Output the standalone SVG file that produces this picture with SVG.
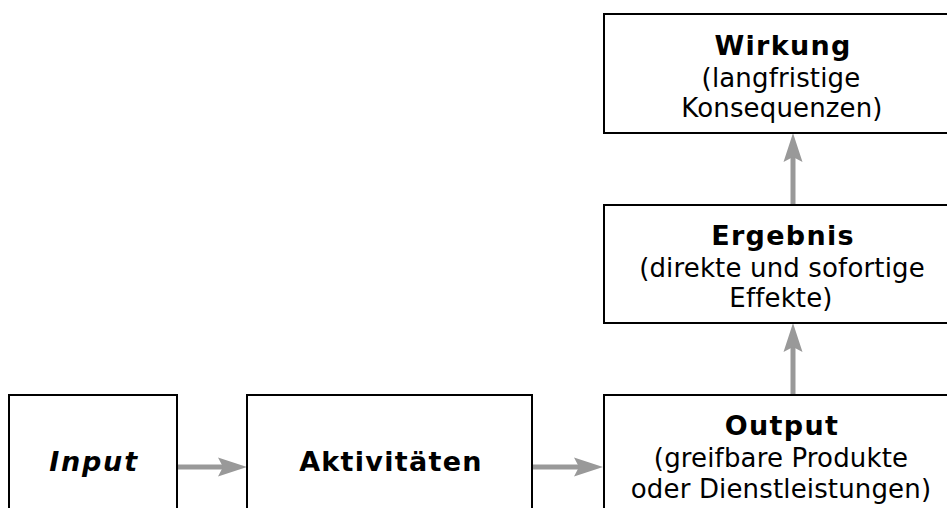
<svg xmlns="http://www.w3.org/2000/svg" width="947" height="508" viewBox="0 0 947 508">
<style>
.box{fill:#fff;stroke:#000;stroke-width:2}
text{font-family:"DejaVu Sans",Verdana,sans-serif;font-size:26px;fill:#000;text-anchor:middle;letter-spacing:0.15px}
.t{font-weight:bold;font-size:27px;letter-spacing:1.3px}
.conn{stroke:#999;stroke-width:5;fill:none}
</style>
<defs>
<marker id="ah" markerUnits="userSpaceOnUse" viewBox="-10 -10 32 20" refX="0" refY="0" markerWidth="32" markerHeight="20" orient="auto">
<path d="M21,0 L-8,-9.5 L-3,0 L-8,9.5 Z" fill="#999"/>
</marker>
</defs>
<rect width="947" height="508" fill="#fff"/>
<g id="connectors">
<line class="conn" x1="177" y1="467" x2="226" y2="467" marker-end="url(#ah)"/>
<line class="conn" x1="532" y1="467" x2="582" y2="467" marker-end="url(#ah)"/>
<line class="conn" x1="793" y1="395" x2="793" y2="344" marker-end="url(#ah)"/>
<line class="conn" x1="793" y1="205" x2="793" y2="154" marker-end="url(#ah)"/>
</g>
<g id="input">
<rect class="box" x="9" y="395" width="168" height="150"/>
<text class="t" x="94" y="471" font-style="italic" style="letter-spacing:1.8px">Input</text>
</g>
<g id="aktivitaeten">
<rect class="box" x="247" y="395" width="285" height="150"/>
<text class="t" x="391" y="471">Aktivitäten</text>
</g>
<g id="output">
<rect class="box" x="604" y="395" width="360" height="150"/>
<text class="t" x="782" y="435">Output</text>
<text x="781" y="467">(greifbare Produkte</text>
<text x="781" y="498">oder Dienstleistungen)</text>
</g>
<g id="ergebnis">
<rect class="box" x="604" y="205" width="360" height="118"/>
<text class="t" x="783" y="245">Ergebnis</text>
<text x="782" y="277">(direkte und sofortige</text>
<text x="781" y="307">Effekte)</text>
</g>
<g id="wirkung">
<rect class="box" x="604" y="14" width="360" height="119"/>
<text class="t" x="783" y="55">Wirkung</text>
<text x="781" y="87">(langfristige</text>
<text x="782" y="117">Konsequenzen)</text>
</g>
</svg>
